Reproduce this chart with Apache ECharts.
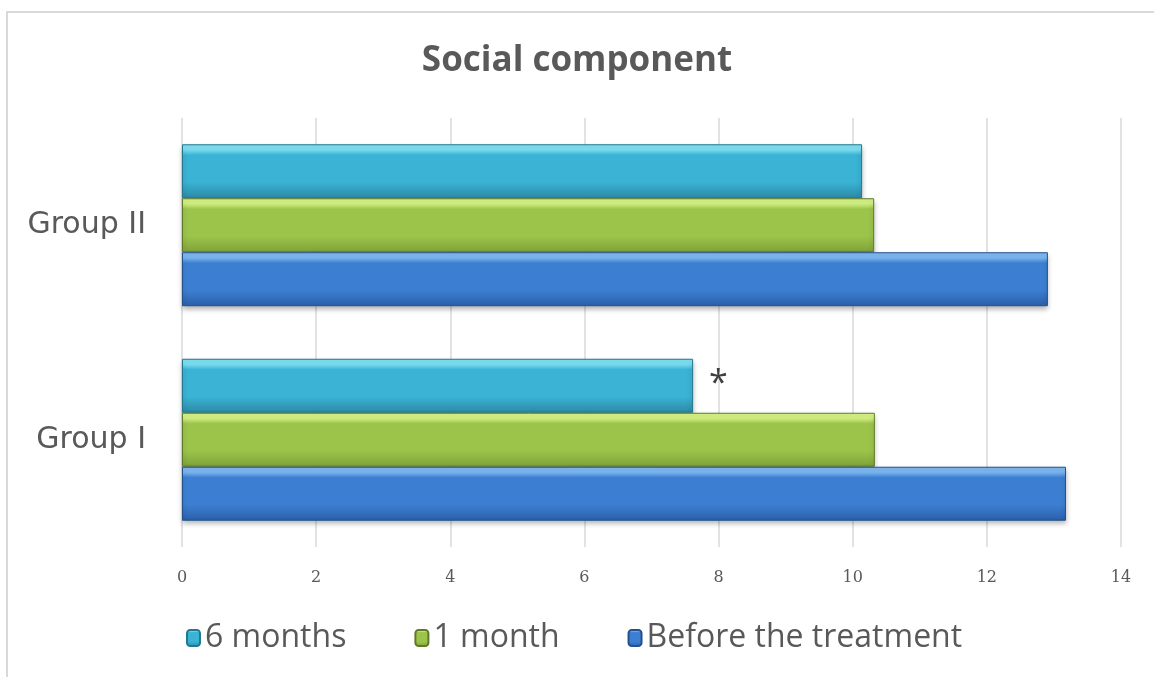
<!DOCTYPE html>
<html>
<head>
<meta charset="utf-8">
<script src="https://cdn.jsdelivr.net/npm/echarts@6/dist/echarts.min.js"></script>
<style>
  html, body { margin: 0; padding: 0; background: #fff; }
  #chart { width: 1154px; height: 677px; }
</style>
</head>
<body>
<div id="chart"></div>
<script>
// data
var groups = ['Group I', 'Group II'];
var beforeVals = [13.18, 12.91];
var oneMonthVals = [10.33, 10.32];
var sixMonthVals = [7.62, 10.14];
var xTicks = [0, 2, 4, 6, 8, 10, 12, 14];
var legendNames = ['6 months', '1 month', 'Before the treatment'];
var starMark = ['*', ''];

var txt = '#595959';
var font = '"Open Sans", "Noto Sans", sans-serif';

// bevel-ish look: light strip on top, darker at the bottom
function barStyle(top, mid, bot, border) {
    return {
        color: new echarts.graphic.LinearGradient(0, 0, 0, 1, [
            { offset: 0, color: top },
            { offset: 0.1, color: top },
            { offset: 0.2, color: mid },
            { offset: 0.7, color: mid },
            { offset: 1, color: bot }
        ]),
        borderColor: border,
        borderWidth: 1,
        shadowBlur: 5,
        shadowOffsetY: 3,
        shadowColor: 'rgba(0,0,0,0.3)'
    };
}

var myChart = echarts.init(document.getElementById('chart'));

var option = {
    animation: false,
    backgroundColor: '#fff',
    graphic: [{
        type: 'rect',
        shape: { x: 7, y: 12, width: 1170, height: 700 },
        style: { fill: 'none', stroke: '#d9d9d9', lineWidth: 2 },
        silent: true
    }],
    title: {
        text: 'Social component',
        left: 'center',
        top: 39,
        textStyle: { fontFamily: font, fontSize: 35, fontWeight: 'bold', color: txt }
    },
    legend: {
        data: legendNames,
        bottom: 18,
        left: 181,
        itemWidth: 13,
        itemHeight: 16,
        itemGap: 68,
        textStyle: { fontFamily: font, fontSize: 32, color: txt }
    },
    grid: { left: 182, right: 33, top: 118, bottom: 130 },
    xAxis: {
        type: 'value',
        min: xTicks[0],
        max: xTicks[xTicks.length - 1],
        interval: 2,
        axisLine: { show: false },
        axisTick: { show: false },
        splitLine: { lineStyle: { color: '#d9d9d9', width: 1.5 } },
        axisLabel: { fontFamily: '"DejaVu Serif", serif', fontSize: 16, color: txt, margin: 23 }
    },
    yAxis: {
        type: 'category',
        data: groups,
        axisLine: { show: false },
        axisTick: { show: false },
        axisLabel: { fontFamily: '"DejaVu Sans", sans-serif', fontSize: 30, color: txt, margin: 36 }
    },
    series: [{
        name: legendNames[0],
        type: 'bar',
        data: sixMonthVals,
        barGap: '0%',
        barCategoryGap: '24.5%',
        itemStyle: barStyle('#7fe3f6', '#3ab3d4', '#2c8aa6', '#22788f'),
        label: {
            show: true,
            position: 'right',
            distance: 16,
            offset: [0, -1],
            fontFamily: font,
            fontSize: 34,
            color: '#404040',
            formatter: function(p) { return starMark[p.dataIndex]; }
        }
    }, {
        name: legendNames[1],
        type: 'bar',
        data: oneMonthVals,
        itemStyle: barStyle('#d6f585', '#9cc44b', '#7fa238', '#5e7a28')
    }, {
        name: legendNames[2],
        type: 'bar',
        data: beforeVals,
        itemStyle: barStyle('#7fbaf4', '#3c7fd2', '#2b5fa8', '#24508c')
    }]
};

myChart.setOption(option);
</script>
</body>
</html>
